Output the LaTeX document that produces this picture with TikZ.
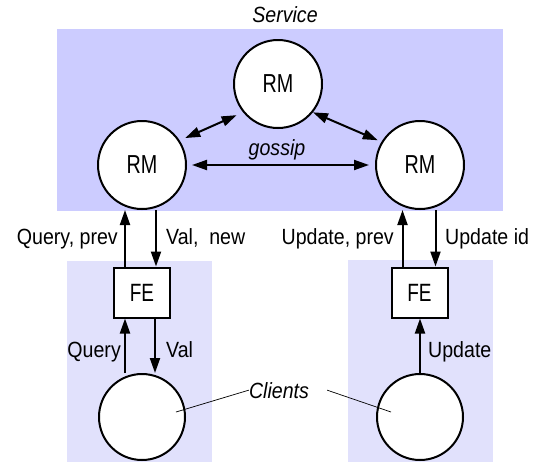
\documentclass[tikz,border=0pt]{standalone}
\usepackage{fontspec}
\setmainfont[FakeStretch=0.89]{Liberation Sans}
\newfontfamily\nodefont[FakeStretch=0.76]{Liberation Sans}
\usetikzlibrary{arrows.meta}
\definecolor{servicebg}{RGB}{204,204,255}
\definecolor{clientbg}{RGB}{225,225,252}
\begin{document}
\begin{tikzpicture}[x=1pt, y=-1pt, font=\fontsize{22}{26}\selectfont,
    rm/.style={circle, draw, line width=2pt, fill=white, minimum size=88pt, inner sep=0pt, font=\nodefont\fontsize{26}{30}\selectfont},
    fe/.style={rectangle, draw, line width=2pt, fill=white, minimum width=56pt, minimum height=50pt, inner sep=0pt, font=\nodefont\fontsize{25}{30}\selectfont},
    client/.style={circle, draw, line width=2pt, fill=white, minimum size=86pt, inner sep=0pt},
    msg/.style={line width=2pt, -{Triangle[length=15pt,width=10pt]}},
    gossip/.style={line width=2pt, {Triangle[length=15pt,width=10pt]}-{Triangle[length=15pt,width=10pt]}},
    lbl/.style={inner sep=0pt}]
    \useasboundingbox (0,0) rectangle (535,472);
    \fill[servicebg] (57,29) rectangle (503,211);
    \fill[clientbg] (67,261) rectangle (212,462);
    \fill[clientbg] (348,260) rectangle (493,462);
    \node[lbl, anchor=base] (service) at (285,22) {\itshape Service};
    \node[rm] (rmT) at (278,84) {RM};
    \node[rm] (rmL) at (142,165) {RM};
    \node[rm] (rmR) at (420,165) {RM};
    \node[fe] (feL) at (142,292.5) {FE};
    \node[fe] (feR) at (419.5,292.5) {FE};
    \node[client] (cL) at (142,417) {};
    \node[client] (cR) at (420,417) {};
    \draw[gossip, shorten <=5pt, shorten >=6pt] (rmL.east) -- (rmR.west);
    \draw[gossip, shorten <=6pt, shorten >=7pt] (rmL.33) -- (rmT.219);
    \draw[gossip, shorten <=0pt, shorten >=4pt] (rmT.-39) -- (rmR.149);
    \node[lbl, anchor=base] (gos) at (277,155) {\itshape gossip};
    \draw[msg] ([xshift=-17pt]feL.north) -- ([xshift=-17pt]feL.north |- rmL.south);
    \draw[msg] ([xshift=14pt]feL.north |- rmL.south) -- ([xshift=14pt]feL.north);
    \draw[msg] ([xshift=-17pt]feR.north) -- ([xshift=-17pt]feR.north |- rmR.south);
    \draw[msg] ([xshift=16pt]feR.north |- rmR.south) -- ([xshift=16pt]feR.north);
    \draw[msg] ([xshift=-17pt]feL.south |- cL.north) -- ([xshift=-17pt]feL.south);
    \draw[msg] ([xshift=13pt]feL.south) -- ([xshift=13pt]feL.south |- cL.north);
    \draw[msg] (cR.north) -- (cR.north |- feR.south);
    \node[lbl, anchor=base east] (qprev) at (118,244) {Query, prev};
    \node[lbl, anchor=base west] (valnew) at (166,244) {Val,\ \ new};
    \node[lbl, anchor=base east] (uprev) at (394,244) {Update, prev};
    \node[lbl, anchor=base west] (uid) at (445,244) {Update id};
    \node[lbl, anchor=base east] (query) at (121,357) {Query};
    \node[lbl, anchor=base west] (val) at (166,357) {Val};
    \node[lbl, anchor=base west] (upd) at (428,357) {Update};
    \node[lbl, anchor=base] (clients) at (279,398) {\itshape Clients};
    \coordinate (cLdot) at (176,412);
    \coordinate (cRdot) at (391,412);
    \draw[line width=0.7pt] (clients.west) -- (cLdot);
    \draw[line width=0.7pt] ([xshift=18pt]clients.east) -- (cRdot);
  \end{tikzpicture}
\end{document}
